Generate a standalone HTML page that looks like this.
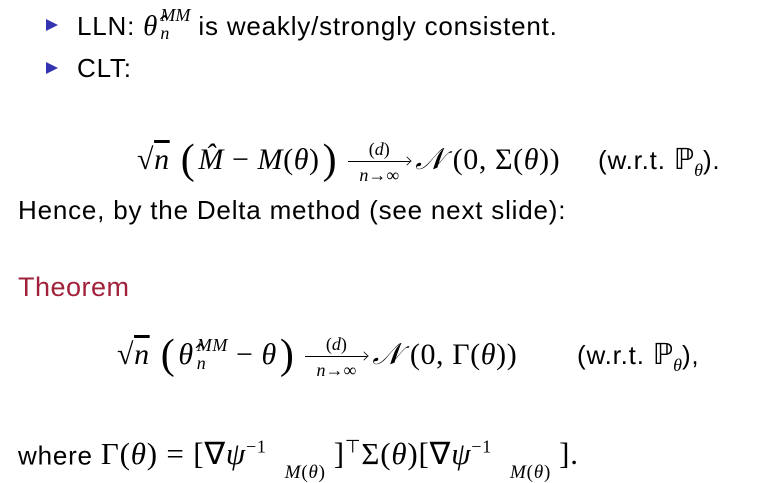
<!DOCTYPE html>
<html><head><meta charset="utf-8"><style>
body{margin:0;width:777px;height:483px;background:#fff;position:relative;overflow:hidden;font-family:"Liberation Sans",sans-serif;color:#000}
.a{position:absolute;white-space:nowrap;line-height:1}
.t{font-size:26px;letter-spacing:0.8px}
.m{font-family:"Liberation Serif",serif;font-size:29px;letter-spacing:0}
.fm{font-family:"Liberation Serif",serif;font-size:30px;letter-spacing:0.6px}
i{font-family:"Liberation Serif",serif}
.bul{position:absolute;width:0;height:0;border-top:6px solid transparent;border-bottom:6px solid transparent;border-left:12px solid #3333b2}
.big{font-size:42px;vertical-align:-4px;font-family:"Liberation Serif",serif;margin:0 3px}
.ss{display:inline-block;vertical-align:middle;line-height:1;font-size:18px;font-family:"Liberation Serif",serif;margin-left:3px}
.ss span{display:block}
.arr{display:inline-block;vertical-align:middle;width:62px;text-align:center;font-size:18px;line-height:1;margin:0 5px 0 8px;letter-spacing:0}
.arr .ln{position:relative;height:0;border-top:1.5px solid #000;margin:3px 0 4px}
.arr .ln:after{content:"";position:absolute;right:-1px;top:-5px;width:7px;height:7px;border-right:1.5px solid #000;border-top:1.5px solid #000;transform:rotate(45deg) scale(.8)}
.sq{text-decoration:overline}
.op{margin:0 8px}
sub.s{font-size:18px}
.w{font-family:"Liberation Serif",serif;font-size:31px;letter-spacing:0.8px}
.w sup{font-size:18px}
.w sub{font-size:19px;position:relative;top:6px;margin:0 8px 0 18px}
</style></head><body>
<div class="bul" style="left:46px;top:19px"></div>
<div class="a t" style="left:77px;top:12px">LLN: <span class="m"><i>θ̂</i><span class="ss" style="margin-top:-8px"><span><i>MM</i></span><span><i>n</i></span></span></span> is weakly/strongly consistent.</div>
<div class="bul" style="left:46px;top:62px"></div>
<div class="a t" style="left:77px;top:55px">CLT:</div>

<div class="a fm" style="left:137px;top:139px">√<span class="sq"><i>n</i></span> <span class="big">(</span><i>M̂</i><span class="op">−</span><i>M</i>(<i>θ</i>)<span class="big">)</span><span class="arr"><span>(<i>d</i>)</span><div class="ln"></div><span><i>n</i>→∞</span></span><i>𝒩</i> (0, Σ(<i>θ</i>))</div>
<div class="a t" style="left:598px;top:146px">(w.r.t. <span class="m">ℙ<sub class="s"><i>θ</i></sub></span>).</div>

<div class="a t" style="left:18px;top:197px">Hence, by the Delta method (see next slide):</div>
<div class="a" style="left:18px;top:274px;font-size:27px;color:#a0213a;letter-spacing:0.5px">Theorem</div>

<div class="a fm" style="left:117px;top:334px">√<span class="sq"><i>n</i></span> <span class="big">(</span><i>θ̂</i><span class="ss" style="margin-top:-6px"><span><i>MM</i></span><span><i>n</i></span></span><span class="op">−</span><i>θ</i><span class="big">)</span><span class="arr"><span>(<i>d</i>)</span><div class="ln"></div><span><i>n</i>→∞</span></span><i>𝒩</i> (0, Γ(<i>θ</i>))</div>
<div class="a t" style="left:577px;top:341px">(w.r.t. <span class="m">ℙ<sub class="s"><i>θ</i></sub></span>),</div>

<div class="a t" style="left:18px;top:438px">where <span class="w">Γ(<i>θ</i>) = [∇<i>ψ</i><sup>−1</sup><sub><i>M</i>(<i>θ</i>)</sub>]<sup>⊤</sup>Σ(<i>θ</i>)[∇<i>ψ</i><sup>−1</sup><sub><i>M</i>(<i>θ</i>)</sub>].</span></div>
</body></html>
